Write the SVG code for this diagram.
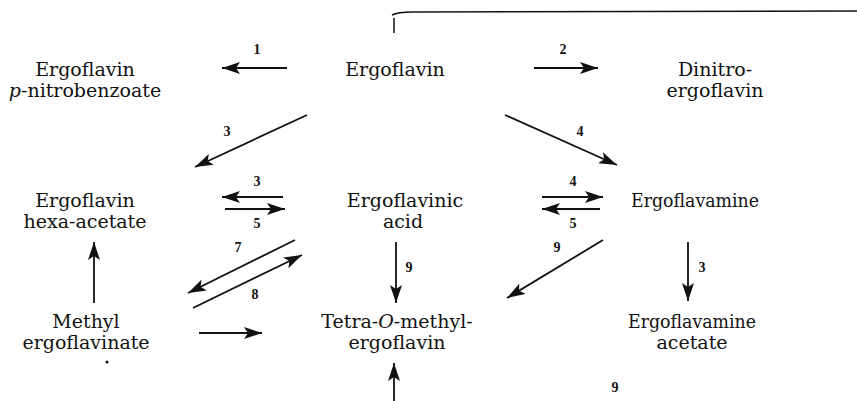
<svg xmlns="http://www.w3.org/2000/svg" width="857" height="401" viewBox="0 0 857 401">
<style>
.t{font-family:"DejaVu Serif","Liberation Serif",serif;font-size:19px;fill:#111;text-anchor:middle}
.n{font-family:"Liberation Serif",serif;font-size:14px;font-weight:bold;fill:#111;text-anchor:middle}
.c{stroke:#111;stroke-width:1.8;fill:none;marker-end:url(#ah)}
.l{stroke:#111;stroke-width:1.5;fill:none}
</style>
<defs>
<marker id="ah" markerUnits="userSpaceOnUse" markerWidth="20" markerHeight="12" refX="18" refY="6" orient="auto">
<path d="M0,0 L18,6 L0,12 L4,6 Z" fill="#111"/>
</marker>
</defs>
<rect width="857" height="401" fill="#fff"/>
<g id="top-line">
<path class="l" d="M392,15 Q398,12 412,12 L857,11"/>
<path class="l" d="M394,18 L394,33"/>
</g>
<g id="n-pnitro"><text class="t" x="85" y="76">Ergoflavin</text><text class="t" x="85" y="97"><tspan font-style="italic">p</tspan>-nitrobenzoate</text></g>
<g id="n-ergoflavin"><text class="t" x="395" y="76">Ergoflavin</text></g>
<g id="n-dinitro"><text class="t" x="715" y="76">Dinitro-</text><text class="t" x="715" y="97">ergoflavin</text></g>
<g id="n-hexa"><text class="t" x="85" y="207">Ergoflavin</text><text class="t" x="85" y="228">hexa-acetate</text></g>
<g id="n-acid"><text class="t" x="405" y="207">Ergoflavinic</text><text class="t" x="403" y="228">acid</text></g>
<g id="n-amine"><text class="t" x="695" y="207" textLength="128" lengthAdjust="spacingAndGlyphs">Ergoflavamine</text></g>
<g id="n-methyl"><text class="t" x="86" y="328">Methyl</text><text class="t" x="86" y="349">ergoflavinate</text><circle cx="107" cy="362" r="1.5" fill="#111"/></g>
<g id="n-tetra"><text class="t" x="397" y="328">Tetra-<tspan font-style="italic">O</tspan>-methyl-</text><text class="t" x="397" y="349">ergoflavin</text></g>
<g id="n-amineacetate"><text class="t" x="692" y="328" textLength="128" lengthAdjust="spacingAndGlyphs">Ergoflavamine</text><text class="t" x="692" y="349">acetate</text></g>
<g id="connectors">
<path class="c" d="M287,68 L222,68"/>
<path class="c" d="M534,68 L598,68"/>
<path class="c" d="M307,115 L195,167"/>
<path class="c" d="M505,115 L617,165"/>
<path class="c" d="M283,197 L222,197"/>
<path class="c" d="M225,209 L285,209"/>
<path class="c" d="M542,197 L603,197"/>
<path class="c" d="M600,209 L542,209"/>
<path class="c" d="M94,303 L94,242"/>
<path class="c" d="M295,240 L188,293"/>
<path class="c" d="M193,308 L302,255"/>
<path class="c" d="M199,333 L262,333"/>
<path class="c" d="M396,242 L396,303"/>
<path class="c" d="M603,240 L507,298"/>
<path class="c" d="M688,242 L688,301"/>
<path class="c" d="M394,401 L394,363"/>
</g>
<g id="labels">
<text class="n" x="257" y="54">1</text>
<text class="n" x="563" y="54">2</text>
<text class="n" x="227" y="136">3</text>
<text class="n" x="580" y="136">4</text>
<text class="n" x="257" y="186">3</text>
<text class="n" x="257" y="228">5</text>
<text class="n" x="573" y="186">4</text>
<text class="n" x="573" y="228">5</text>
<text class="n" x="238" y="252">7</text>
<text class="n" x="255" y="299">8</text>
<text class="n" x="409" y="272">9</text>
<text class="n" x="557" y="252">9</text>
<text class="n" x="702" y="272">3</text>
<text class="n" x="615" y="392">9</text>
</g>
</svg>
